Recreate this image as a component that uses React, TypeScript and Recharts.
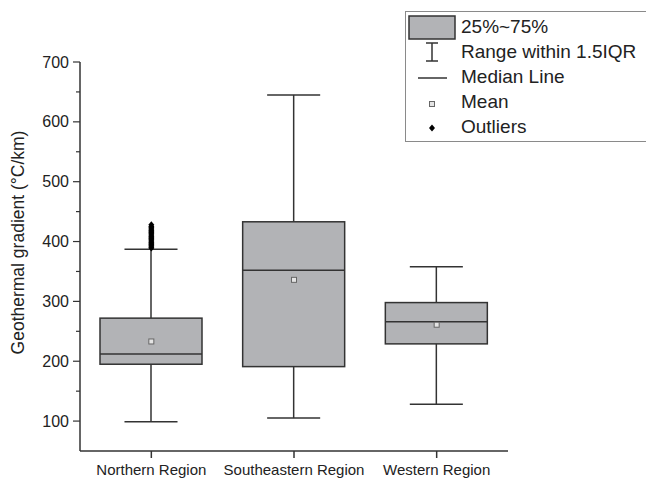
import React from "react";
import { ComposedChart, Bar, Scatter, XAxis, YAxis } from "recharts";

const regions = ["Northern Region", "Southeastern Region", "Western Region"];
const whiskerLow = [99, 105, 128];
const q1 = [195, 191, 229];
const median = [212, 352, 266];
const q3 = [272, 433, 298];
const whiskerHigh = [387, 645, 358];
const means = [233, 336, 261];
const northernOutliers = [
  389, 391, 393, 395, 397, 399, 401, 403, 405, 407, 409, 411, 413, 415, 417,
  419, 421, 423, 425, 428,
];
const yTicks = [100, 150, 200, 250, 300, 350, 400, 450, 500, 550, 600, 650, 700];

const FONT = "'Liberation Sans', Arial, sans-serif";
const INK = "#222";
const LINE = "#333";
const BOX_FILL = "#b2b3b6";

const boxData = regions.map((region, i) => ({
  region,
  range: [whiskerLow[i], whiskerHigh[i]],
  lo: whiskerLow[i],
  q1: q1[i],
  median: median[i],
  q3: q3[i],
  hi: whiskerHigh[i],
}));

const meanData = regions.map((region, i) => ({ region, value: means[i] }));
const outlierData = northernOutliers.map((value) => ({ region: regions[0], value }));

// box + whiskers drawn inside the bar that spans [lo, hi]
function BoxShape(props: any) {
  const { x, y, width, height, payload } = props;
  if (payload == null) return null;
  const top = Math.min(y, y + height);
  const bottom = Math.max(y, y + height);
  const py = (v: number) =>
    bottom - ((v - payload.lo) / (payload.hi - payload.lo)) * (bottom - top);
  const cx = x + width / 2;
  const cap = width * 0.26;
  return (
    <g stroke={LINE} strokeWidth={1.5}>
      <line x1={cx} x2={cx} y1={py(payload.hi)} y2={py(payload.q3)} />
      <line x1={cx} x2={cx} y1={py(payload.q1)} y2={py(payload.lo)} />
      <line x1={cx - cap} x2={cx + cap} y1={py(payload.hi)} y2={py(payload.hi)} />
      <line x1={cx - cap} x2={cx + cap} y1={py(payload.lo)} y2={py(payload.lo)} />
      <rect
        x={x}
        y={py(payload.q3)}
        width={width}
        height={py(payload.q1) - py(payload.q3)}
        fill={BOX_FILL}
      />
      <line x1={x} x2={x + width} y1={py(payload.median)} y2={py(payload.median)} />
    </g>
  );
}

function MeanShape(props: any) {
  const { cx, cy } = props;
  return <rect x={cx - 2.5} y={cy - 2.5} width={5} height={5} fill="#e4e4e4" stroke="#666" strokeWidth={1} />;
}

function OutlierShape(props: any) {
  const { cx, cy } = props;
  return <path d={`M${cx},${cy - 3.5}L${cx + 3},${cy}L${cx},${cy + 3.5}L${cx - 3},${cy}Z`} fill="#000" />;
}

function YTick(props: any) {
  const { x, y, payload } = props;
  const major = payload.value % 100 === 0;
  return (
    <g>
      <line x1={x - (major ? 7 : 4)} x2={x} y1={y} y2={y} stroke={LINE} strokeWidth={1.2} />
      {major && (
        <text x={x - 11} y={y} dy="0.35em" textAnchor="end" fontSize={16} fill={INK} fontFamily={FONT}>
          {payload.value}
        </text>
      )}
    </g>
  );
}

function YTitle(props: any) {
  const { viewBox } = props;
  const cy = viewBox.y + viewBox.height / 2 - 14;
  return (
    <text
      x={18}
      y={cy}
      transform={`rotate(-90, 18, ${cy})`}
      textAnchor="middle"
      dominantBaseline="central"
      fontSize={17.5}
      fill={INK}
      fontFamily={FONT}
    >
      Geothermal gradient (°C/km)
    </text>
  );
}

const legendRow: React.CSSProperties = {
  position: "absolute",
  left: 55,
  fontSize: 19,
  lineHeight: "20px",
  color: INK,
  whiteSpace: "nowrap",
};

function LegendBox() {
  return (
    <div
      style={{
        position: "absolute",
        left: 405,
        top: 11,
        width: 250,
        height: 129,
        border: "1px solid #8a8a8a",
        background: "#fff",
        fontFamily: FONT,
      }}
    >
      <svg width={60} height={129} style={{ position: "absolute", left: 0, top: 0 }}>
        <rect x={3} y={4} width={46} height={23} fill={BOX_FILL} stroke={LINE} strokeWidth={1.5} />
        <g stroke={LINE} strokeWidth={1.5}>
          <line x1={26} x2={26} y1={31} y2={49} />
          <line x1={20} x2={32} y1={31} y2={31} />
          <line x1={20} x2={32} y1={49} y2={49} />
          <line x1={12} x2={41} y1={66} y2={66} />
        </g>
        <rect x={23.5} y={89.5} width={5} height={5} fill="#e4e4e4" stroke="#666" strokeWidth={1} />
        <path d="M26,112.5L29,116L26,119.5L23,116Z" fill="#000" />
      </svg>
      <div style={{ ...legendRow, top: 5 }}>25%~75%</div>
      <div style={{ ...legendRow, top: 30 }}>Range within 1.5IQR</div>
      <div style={{ ...legendRow, top: 55 }}>Median Line</div>
      <div style={{ ...legendRow, top: 80 }}>Mean</div>
      <div style={{ ...legendRow, top: 105 }}>Outliers</div>
    </div>
  );
}

export default function App() {
  return (
    <div style={{ position: "absolute", left: 0, top: 0, width: 646, height: 480, background: "#fff", overflow: "hidden" }}>
      <ComposedChart
        width={646}
        height={480}
        data={boxData}
        margin={{ top: 62, right: 138, left: 0, bottom: 0 }}
      >
        <XAxis
          dataKey="region"
          type="category"
          allowDuplicatedCategory={false}
          height={29}
          tickSize={7}
          tickMargin={6}
          axisLine={{ stroke: LINE, strokeWidth: 1.5 }}
          tickLine={{ stroke: LINE, strokeWidth: 1.5 }}
          tick={{ fontSize: 15, fill: INK, fontFamily: FONT }}
        />
        <YAxis
          type="number"
          domain={[50, 700]}
          ticks={yTicks}
          allowDataOverflow
          width={80}
          tickSize={0}
          tickMargin={0}
          tickLine={false}
          axisLine={{ stroke: LINE, strokeWidth: 1.5 }}
          tick={<YTick />}
          interval={0}
          label={<YTitle />}
        />
        <Bar dataKey="range" barSize={102} shape={<BoxShape />} isAnimationActive={false} />
        <Scatter data={meanData} dataKey="value" shape={<MeanShape />} isAnimationActive={false} />
        <Scatter data={outlierData} dataKey="value" shape={<OutlierShape />} isAnimationActive={false} />
      </ComposedChart>
      <LegendBox />
    </div>
  );
}
